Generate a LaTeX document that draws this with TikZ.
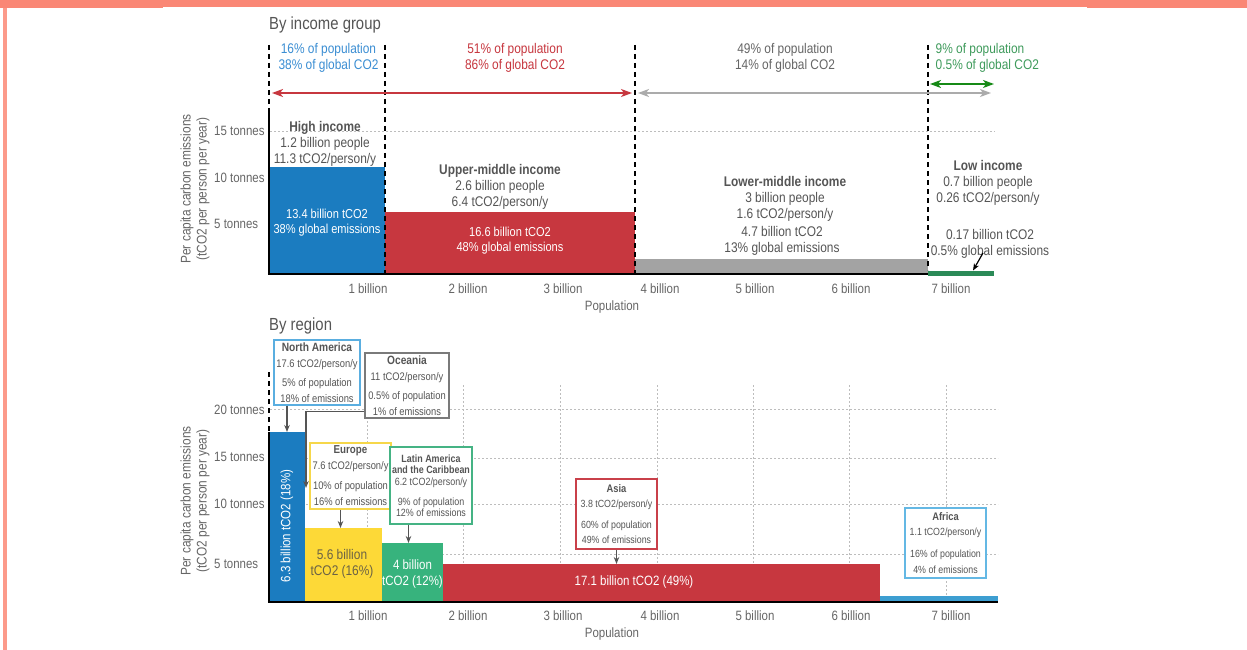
\documentclass[tikz,border=0pt]{standalone}
\usepackage{fontspec}
\setmainfont[FakeStretch=0.85]{Liberation Sans}
\usetikzlibrary{arrows.meta}
\definecolor{salmon}{HTML}{FA8775}
\definecolor{salmonl}{HTML}{FC9A8A}
\definecolor{tgray}{HTML}{666666}
\definecolor{dgray}{HTML}{555555}
\definecolor{cblue}{HTML}{1B7CC0}
\definecolor{tblue}{HTML}{3B8ED3}
\definecolor{cred}{HTML}{C7373F}
\definecolor{cgraybar}{HTML}{A3A3A3}
\definecolor{garrow}{HTML}{ABABAB}
\definecolor{cgreen}{HTML}{2B8A57}
\definecolor{tgreen}{HTML}{3F9B5C}
\definecolor{agreen}{HTML}{168A16}
\definecolor{cyellow}{HTML}{FDD937}
\definecolor{eutext}{HTML}{6B6245}
\definecolor{clat}{HTML}{37B37D}
\definecolor{cafr}{HTML}{3D9ED1}
\definecolor{bna}{HTML}{5AAEE0}
\definecolor{boc}{HTML}{7A7A7A}
\definecolor{beu}{HTML}{F6D74A}
\definecolor{bla}{HTML}{45B384}
\definecolor{bas}{HTML}{C9404A}
\definecolor{baf}{HTML}{64B8E4}
\definecolor{gridc}{HTML}{BDBDBD}
\begin{document}
\begin{tikzpicture}[x=1pt,y=-1pt,
  barbox/.style={draw=none, inner sep=0pt, outer sep=0pt, anchor=south west},
  txt/.style={inner sep=0pt, align=center, text=dgray},
  ftxt/.style={font=\fontsize{14}{16}\selectfont},
  ticklbl/.style={inner sep=0pt, text=tgray, font=\fontsize{13.5}{16}\selectfont},
  ytick/.style={inner sep=0pt, anchor=west, text=tgray, font=\fontsize{13.5}{16}\selectfont},
  gridl/.style={draw=gridc, line width=0.8pt, dash pattern=on 2pt off 2pt},
  axisl/.style={line width=2.5pt, black},
  dashl/.style={line width=2.2pt, black, dash pattern=on 5pt off 4pt},
  dbl/.style={line width=1.6pt, arrows={Stealth[length=11pt,width=8pt,inset=3pt]-Stealth[length=11pt,width=8pt,inset=3pt]}},
  rbox/.style={draw, line width=1.2pt, fill=white, inner sep=0pt, align=center, text=dgray},
  garr/.style={draw=dgray, line width=1.2pt, -{Stealth[length=7pt,width=5.5pt]}},
  ptitle/.style={anchor=west, inner sep=0pt, text=dgray, font=\fontsize{17.5}{20}\selectfont}
]
\useasboundingbox (0,0) rectangle (1247,650);
\fill[white] (0,0) rectangle (1247,650);
\fill[salmon] (0,0) rectangle (1247,7.7);
\fill[white] (163,6.7) rectangle (1087,7.7);
\fill[salmonl] (3.3,7.7) rectangle (6.7,650);

% ================= TOP PANEL =================
\node[ptitle] (t1) at (269,24.5) {By income group};

\coordinate (g15a) at (270,131);
\coordinate (g15b) at (995,131);
\draw[gridl] (g15a) -- (g15b);

% bars
\node[barbox, fill=cblue, minimum width=116pt, minimum height=107pt] (hib) at (269,274) {};
\node[barbox, fill=cred, minimum width=250pt, minimum height=62pt] (umb) at (385,274) {};
\node[barbox, fill=cgraybar, minimum width=293pt, minimum height=15pt] (lmb) at (635,274) {};
\node[barbox, fill=cgreen, minimum width=66pt, minimum height=5pt] (lob) at (928,275.5) {};

% axes
\coordinate (ax1a) at (269,113);
\coordinate (ax1b) at (269,275.25);
\coordinate (ax1c) at (267.75,274);
\coordinate (ax1d) at (928,274);
\draw[axisl] (ax1a) -- (ax1b);
\draw[axisl] (ax1c) -- (ax1d);

% dashed separators
\coordinate (d0a) at (269,45);  \coordinate (d0b) at (269,113);
\coordinate (d1a) at (385,45);  \coordinate (d1b) at (385,274);
\coordinate (d2a) at (635,45);  \coordinate (d2b) at (635,274);
\coordinate (d3a) at (928,45);  \coordinate (d3b) at (928,270);
\draw[dashl] (d0a) -- (d0b);
\draw[dashl] (d1a) -- (d1b);
\draw[dashl] (d2a) -- (d2b);
\draw[dashl] (d3a) -- (d3b);

% share arrows
\coordinate (ra) at (272,93);  \coordinate (rb) at (632,93);
\coordinate (ga) at (638,93);  \coordinate (gb) at (991,93);
\coordinate (gra) at (930,84); \coordinate (grb) at (994,84);
\draw[dbl, cred] (ra) -- (rb);
\draw[dbl, garrow] (ga) -- (gb);
\draw[dbl, agreen] (gra) -- (grb);

% share texts
\node[txt, ftxt, text=tblue] (p1) at (328.5,58) {16\% of population\\38\% of global CO2};
\node[txt, ftxt, text=cred] (p2) at (515,58) {51\% of population\\86\% of global CO2};
\node[txt, ftxt, text=tgray] (p3) at (785,58) {49\% of population\\14\% of global CO2};
\node[txt, ftxt, text=tgreen, align=left, anchor=west] (p4) at (935.5,58) {9\% of population\\0.5\% of global CO2};

% y ticks
\node[ytick] (y15) at (214,131) {15 tonnes};
\node[ytick] (y10) at (214,178) {10 tonnes};
\node[ytick] (y5) at (214,224) {5 tonnes};
\node[txt, ftxt, text=tgray, rotate=90] (yl1) at (195,189) {Per capita carbon emissions\\(tCO2 per person per year)};

% group labels
\node[txt, ftxt] (hil) at (325,144) {\textbf{High income}\\1.2 billion people\\11.3 tCO2/person/y};
\node[txt, ftxt] (uml) at (500,187) {\textbf{Upper-middle income}\\2.6 billion people\\6.4 tCO2/person/y};
\node[txt, ftxt] (lml) at (785,199) {\textbf{Lower-middle income}\\3 billion people\\1.6 tCO2/person/y};
\node[txt, ftxt] (lml2) at (782,241) {4.7 billion tCO2\\13\% global emissions};
\node[txt, ftxt] (lol) at (988,183) {\textbf{Low income}\\0.7 billion people\\0.26 tCO2/person/y};
\node[txt, ftxt] (lol2) at (990,243.5) {0.17 billion tCO2\\0.5\% global emissions};

% bar texts
\node[txt, text=white, font=\fontsize{13}{15.5}\selectfont] (hit) at (327,222.5) {13.4 billion tCO2\\38\% global emissions};
\node[txt, text=white, font=\fontsize{13}{15.5}\selectfont] (umt) at (510,240.5) {16.6 billion tCO2\\48\% global emissions};

% low income pointer
\coordinate (lowa) at (983,253);
\draw[line width=1.2pt, black, -{Stealth[length=7pt,width=5.5pt]}] (lowa) -- ([xshift=45pt]lob.north west);

% x ticks
\node[ticklbl] (x1a) at (368,289) {1 billion};
\node[ticklbl] (x2a) at (468,289) {2 billion};
\node[ticklbl] (x3a) at (563,289) {3 billion};
\node[ticklbl] (x4a) at (660,289) {4 billion};
\node[ticklbl] (x5a) at (755,289) {5 billion};
\node[ticklbl] (x6a) at (851,289) {6 billion};
\node[ticklbl] (x7a) at (951,289) {7 billion};
\node[ticklbl] (popa) at (612,307) {Population};

% ================= BOTTOM PANEL =================
\node[ptitle] (t2) at (269,326) {By region};

% grid
\foreach \yy [count=\i] in {409,458,504,554} {
  \coordinate (hg\i a) at (270,\yy);
  \coordinate (hg\i b) at (998,\yy);
  \draw[gridl] (hg\i a) -- (hg\i b);
}
\foreach \xx [count=\i] in {367,463,560,657,753,849,946} {
  \coordinate (vg\i a) at (\xx,385);
  \coordinate (vg\i b) at (\xx,601);
  \draw[gridl] (vg\i a) -- (vg\i b);
}

% bars
\node[barbox, fill=cblue, minimum width=36pt, minimum height=169pt] (nab) at (269,601) {};
\node[barbox, fill=cyellow, minimum width=77pt, minimum height=73pt] (eub) at (305,601) {};
\node[barbox, fill=clat, minimum width=61pt, minimum height=58pt] (lab) at (382,601) {};
\node[barbox, fill=cred, minimum width=437pt, minimum height=37pt] (asb) at (443,601) {};
\node[barbox, fill=cafr, minimum width=118pt, minimum height=5pt] (afb) at (880,601) {};

% axes
\coordinate (ax2a) at (269,432);
\coordinate (ax2b) at (269,603);
\coordinate (ax2c) at (267.75,602);
\coordinate (ax2d) at (998,602);
\draw[axisl] (ax2a) -- (ax2b);
\draw[axisl] (ax2c) -- (ax2d);
\coordinate (d4a) at (269,372); \coordinate (d4b) at (269,432);
\draw[dashl] (d4a) -- (d4b);

% bar texts
\node[txt, text=white, rotate=90, font=\fontsize{13.5}{16}\selectfont] (nat) at (287,526) {6.3 billion tCO2 (18\%)};
\node[txt, text=eutext, font=\fontsize{14}{16}\selectfont] (eut) at (342,564) {5.6 billion\\tCO2 (16\%)};
\node[txt, text=white, font=\fontsize{13.5}{16}\selectfont] (lat) at (412.5,574) {4 billion\\tCO2 (12\%)};
\node[txt, text=white, font=\fontsize{13.5}{16}\selectfont] (ast) at (634,582) {17.1 billion tCO2 (49\%)};

% y ticks
\node[ytick] (y20b) at (214,410) {20 tonnes};
\node[ytick] (y15b) at (214,457) {15 tonnes};
\node[ytick] (y10b) at (214,504) {10 tonnes};
\node[ytick] (y5b) at (214,564) {5 tonnes};
\node[txt, ftxt, text=tgray, rotate=90] (yl2) at (195,501) {Per capita carbon emissions\\(tCO2 per person per year)};

% region boxes
\node[rbox, draw=bna, minimum width=86pt, minimum height=65pt, font=\fontsize{11}{16}\selectfont] (nabox) at (317,372.5)
  {{\fontsize{12}{16}\selectfont\bfseries North America}\\17.6 tCO2/person/y\\[3pt]5\% of population\\18\% of emissions};
\node[rbox, draw=boc, minimum width=84pt, minimum height=65pt, font=\fontsize{11}{16}\selectfont] (ocbox) at (407,385.5)
  {{\fontsize{12}{16}\selectfont\bfseries Oceania}\\11 tCO2/person/y\\[3pt]0.5\% of population\\1\% of emissions};
\node[rbox, draw=beu, minimum width=81pt, minimum height=66pt, font=\fontsize{11}{16}\selectfont] (eubox) at (350.5,476)
  {{\fontsize{11.5}{16}\selectfont\bfseries Europe}\\7.6 tCO2/person/y\\[4pt]10\% of population\\16\% of emissions};
\node[rbox, draw=bla, minimum width=82pt, minimum height=77pt, font=\fontsize{10.5}{11.5}\selectfont] (labox) at (431,485.5)
  {\textbf{Latin America}\\\textbf{and the Caribbean}\\6.2 tCO2/person/y\\[8.5pt]9\% of population\\12\% of emissions};
\node[rbox, draw=bas, minimum width=81pt, minimum height=70pt, font=\fontsize{10.4}{15}\selectfont] (asbox) at (616.5,514)
  {{\fontsize{11}{15}\selectfont\bfseries Asia}\\3.8 tCO2/person/y\\[6pt]60\% of population\\49\% of emissions};
\node[rbox, draw=baf, minimum width=81pt, minimum height=70pt, font=\fontsize{10.4}{15.5}\selectfont] (afbox) at (945.5,543)
  {{\fontsize{11}{15.5}\selectfont\bfseries Africa}\\1.1 tCO2/person/y\\[6.5pt]16\% of population\\4\% of emissions};

% box pointers
\draw[garr] (nab.north |- nabox.south) -- (nab.north);
\draw[garr] ([xshift=-3pt]eub.north |- eubox.south) -- ([xshift=-3pt]eub.north);
\draw[garr] ([xshift=-4pt]lab.north |- labox.south) -- ([xshift=-4pt]lab.north);
\draw[garr] (asbox.south) -- (asbox.south |- asb.north);
\coordinate (ocend) at (306,488);
\draw[garr] ([yshift=7pt]ocbox.south west) -| (ocend);

% x ticks
\node[ticklbl] (x1b) at (368,616) {1 billion};
\node[ticklbl] (x2b) at (468,616) {2 billion};
\node[ticklbl] (x3b) at (563,616) {3 billion};
\node[ticklbl] (x4b) at (660,616) {4 billion};
\node[ticklbl] (x5b) at (755,616) {5 billion};
\node[ticklbl] (x6b) at (851,616) {6 billion};
\node[ticklbl] (x7b) at (951,616) {7 billion};
\node[ticklbl] (popb) at (612,634) {Population};
\end{tikzpicture}
\end{document}
